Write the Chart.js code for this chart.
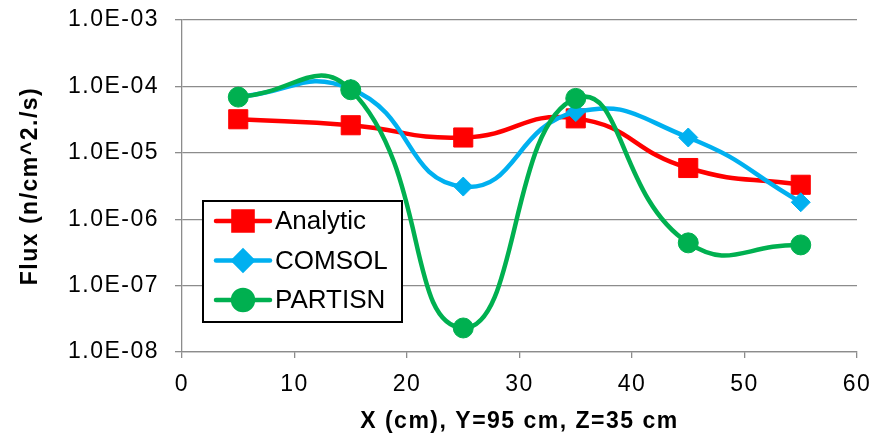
<!DOCTYPE html>
<html>
<head>
<meta charset="utf-8">
<script src="https://cdn.jsdelivr.net/npm/chart.js@4/dist/chart.umd.min.js"></script>
<style>
  html, body { margin: 0; padding: 0; background: #fff; }
  #wrap { width: 879px; height: 437px; position: relative; }
</style>
</head>
<body>
<div id="wrap"><canvas id="fluxChart"></canvas></div>
<script>
// === DATA ===
const xValues = [5, 15, 25, 35, 45, 55];
const analytic = [3.2e-5, 2.6e-5, 1.7e-5, 3.3e-5, 5.9e-6, 3.3e-6];
const comsol   = [7.0e-5, 9.2e-5, 3.1e-6, 4.1e-5, 1.7e-5, 1.8e-6];
const partisn  = [6.9e-5, 8.9e-5, 2.3e-8, 6.6e-5, 4.4e-7, 4.1e-7];
const seriesNames = ['Analytic', 'COMSOL', 'PARTISN'];
const yTicks = [1e-8, 1e-7, 1e-6, 1e-5, 1e-4, 1e-3];
const xTicks = [0, 10, 20, 30, 40, 50, 60];

const toPoints = arr => arr.map((v, i) => ({ x: xValues[i], y: v }));

// 1e-5 -> "1.0E-05"
const sciLabel = v => v.toExponential(1).toUpperCase().replace(/E([+-])(\d)$/, 'E$10$2');

const GRID = '#8c8c8c';
Chart.defaults.font.family = "'Liberation Sans', Arial, sans-serif";
Chart.defaults.color = '#000';

// === LEGEND BOX (inside plot, Excel style: line + marker) ===
const boxLegend = {
    id: 'boxLegend',
    beforeDraw(chart) {
        chart.ctx.letterSpacing = '1.5px';
    },
    afterDraw(chart) {
        const ctx = chart.ctx;
        const bx = 203, by = 201, bw = 199, bh = 121;
        ctx.save();
        ctx.letterSpacing = '0px';
        ctx.fillStyle = '#fff';
        ctx.fillRect(bx, by, bw, bh);
        ctx.strokeStyle = '#000';
        ctx.lineWidth = 2;
        ctx.strokeRect(bx, by, bw, bh);

        chart.data.datasets.forEach((ds, i) => {
            const y = by + 20 + i * 39.5;
            ctx.strokeStyle = ds.borderColor;
            ctx.lineWidth = ds.borderWidth;
            ctx.lineCap = 'round';
            ctx.beginPath();
            ctx.moveTo(bx + 13, y);
            ctx.lineTo(bx + 67, y);
            ctx.stroke();
            ctx.fillStyle = ds.pointBackgroundColor;
            ctx.strokeStyle = ds.pointBorderColor;
            Chart.helpers.drawPoint(ctx, {
                pointStyle: ds.pointStyle, radius: ds.pointRadius,
                rotation: 0, borderWidth: ds.pointBorderWidth
            }, bx + 40, y);
            ctx.fillStyle = '#000';
            ctx.font = "26px 'Liberation Sans', Arial, sans-serif";
            ctx.textBaseline = 'middle';
            ctx.textAlign = 'left';
            ctx.fillText(ds.label, bx + 72, y + 1);
        });
        ctx.restore();
    }
};

function series(label, data, color, style, radius, order) {
    return {
        label, data: toPoints(data), order,
        borderColor: color, backgroundColor: color,
        borderWidth: 4.5, tension: 0.5,
        pointStyle: style, pointRadius: radius, pointHoverRadius: radius,
        pointBackgroundColor: color, pointBorderColor: color, pointBorderWidth: 1
    };
}

new Chart(document.getElementById('fluxChart'), {
    type: 'line',
    data: {
        datasets: [
            series(seriesNames[0], analytic, '#ff0000', 'rect', 13.5, 3),
            series(seriesNames[1], comsol, '#00b0f0', 'rectRot', 9.5, 2),
            series(seriesNames[2], partisn, '#00b050', 'circle', 10, 1)
        ]
    },
    options: {
        responsive: true, maintainAspectRatio: false, animation: false,
        layout: { padding: { left: 0, right: 22, top: 20, bottom: 0 } },
        plugins: { legend: { display: false }, tooltip: { enabled: false } },
        scales: {
            x: {
                type: 'linear', min: 0, max: 60,
                afterBuildTicks: s => { s.ticks = xTicks.map(v => ({ value: v })); },
                afterFit: s => { s.height = 85; s.paddingLeft = 0; s.paddingRight = 0; },
                grid: { drawOnChartArea: false, color: GRID, lineWidth: 1.3, tickLength: 6 },
                border: { color: GRID, width: 1.3 },
                ticks: { font: { size: 23 }, padding: 13, maxRotation: 0 },
                title: {
                    display: true, text: 'X (cm), Y=95 cm, Z=35 cm',
                    font: { size: 23, weight: 'bold' }, padding: { top: 0, bottom: 2 }
                }
            },
            y: {
                type: 'logarithmic', min: 1e-8, max: 1e-3,
                afterBuildTicks: s => { s.ticks = yTicks.map(v => ({ value: v })); },
                afterFit: s => { s.width = 182; s.paddingTop = 0; s.paddingBottom = 0; },
                grid: { color: GRID, lineWidth: 1.3, tickLength: 7 },
                border: { color: GRID, width: 1.3 },
                ticks: { font: { size: 23 }, padding: 16, callback: v => sciLabel(v) },
                title: {
                    display: true, text: 'Flux (n/cm^2./s)',
                    font: { size: 23, weight: 'bold' }, padding: { top: 17, bottom: 0 }
                }
            }
        }
    },
    plugins: [boxLegend]
});
</script>
</body>
</html>
